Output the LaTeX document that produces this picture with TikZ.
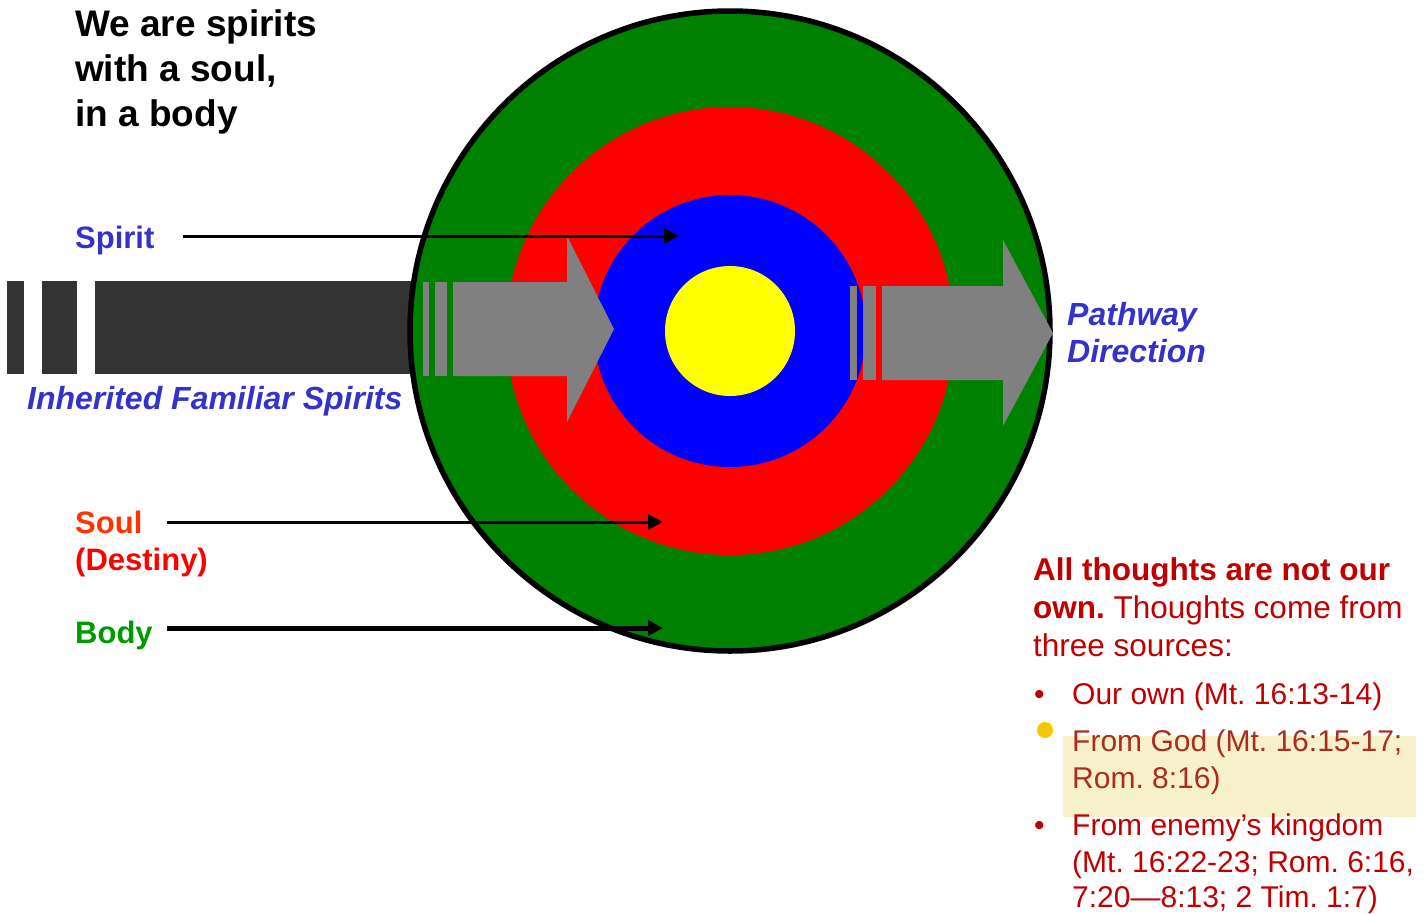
\documentclass[tikz,border=0pt]{standalone}
\usepackage{fontspec}
\setmainfont{Liberation Sans}
\usetikzlibrary{arrows.meta,positioning,calc}
\definecolor{DiscGreen}{RGB}{0,128,0}
\definecolor{DiscRed}{RGB}{255,0,0}
\definecolor{DiscBlue}{RGB}{0,0,255}
\definecolor{DiscYellow}{RGB}{255,255,0}
\definecolor{BarGray}{RGB}{51,51,51}
\definecolor{PathGray}{RGB}{128,128,128}
\definecolor{LabelBlue}{RGB}{51,51,204}
\definecolor{SoulOrange}{RGB}{255,51,0}
\definecolor{BodyGreen}{RGB}{0,153,0}
\definecolor{NoteRed}{RGB}{192,0,0}
\definecolor{NoteBrown}{RGB}{170,45,30}
\definecolor{MarkYellow}{RGB}{246,241,202}
\definecolor{DotYellow}{RGB}{245,200,0}
\newcommand{\titlefont}{\fontsize{37}{44}\selectfont\bfseries}
\newcommand{\labelfont}{\fontsize{31}{37}\selectfont\bfseries}
\newcommand{\notefont}{\fontsize{31.5}{38}\selectfont}
\newcommand{\srcfont}{\fontsize{30}{37}\selectfont}
\frenchspacing
\tikzset{
  lbl/.style={anchor=base west, inner sep=0pt},
  ptr/.style={-{Triangle[length=15pt,width=15pt]}, line width=3pt},
}

\begin{document}
\begin{tikzpicture}[x=1pt,y=-1pt]
        \useasboundingbox (0,0) rectangle (1424,913);
        \coordinate (core) at (730,331);
        % left bar, broken at its far end
        \foreach \a/\b in {7/24,42/77,95/420} {\fill[BarGray] (\a,281) rectangle (\b,374);}
        % the rings
        \fill[DiscGreen] (core) circle (320pt);
        \fill[DiscRed] (core) circle (224pt);
        \fill[DiscBlue] (core) circle (136pt);
        \fill[DiscYellow] (core) circle (65pt);
        \draw[line width=5.5pt] (core) circle (320pt);
        % path arrows
        \foreach \a/\b in {423/429,435/447} {\fill[PathGray] (\a,282) rectangle (\b,376);}
        \fill[PathGray] (453,282) -- (567,282) -- (567,236) -- (614,329) -- (567,422) -- (567,376) -- (453,376) -- cycle;
        \foreach \a/\b in {850/857,863/876} {\fill[PathGray] (\a,286) rectangle (\b,380);}
        \fill[PathGray] (882,286) -- (1003,286) -- (1003,240) -- (1053,333) -- (1003,426) -- (1003,380) -- (882,380) -- cycle;
        % title
        \node[lbl, font=\titlefont] (title1) at (75,36) {We are spirits};
        \node[lbl, font=\titlefont] (title2) at (75,81) {with a soul,};
        \node[lbl, font=\titlefont] (title3) at (75,126) {in a body};
        % labels and pointers
        \node[lbl, font=\labelfont, LabelBlue] (spirit) at (75,248) {Spirit};
        \node[lbl, font=\labelfont, SoulOrange] (soul) at (75,533) {Soul};
        \node[lbl, font=\labelfont, DiscRed] (destiny) at (75,570) {(Destiny)};
        \node[lbl, font=\labelfont, BodyGreen] (body) at (75,643) {Body};
        \coordinate (spiritfrom) at (183,236);
        \coordinate (spiritto) at (679,236);
        \coordinate (soulfrom) at (167,522);
        \coordinate (soulto) at (663,522);
        \coordinate (bodyfrom) at (167,628);
        \coordinate (bodyto) at (663,628);
        \draw[ptr] (spiritfrom) -- (spiritto);
        \draw[ptr] (soulfrom) -- (soulto);
        \draw[ptr, line width=5pt] (bodyfrom) -- (bodyto);
        \node[lbl, font=\fontsize{32}{37}\selectfont\bfseries\itshape, LabelBlue] (inherited) at (27,409) {Inherited Familiar Spirits};
        \node[lbl, font=\fontsize{32}{37}\selectfont\bfseries\itshape, LabelBlue] (pathway) at (1067,325) {Pathway};
        \node[lbl, font=\fontsize{32}{37}\selectfont\bfseries\itshape, LabelBlue] (direction) at (1067,362) {Direction};
        % notes
        \fill[MarkYellow] (1063,736) rectangle (1416,817);
        \fill[DotYellow] (1045,730) circle (8pt);
        \node[lbl, font=\notefont\bfseries, NoteRed] (note1) at (1033,580) {All thoughts are not our};
        \node[lbl, font=\notefont, NoteRed] (note2) at (1033,618) {\textbf{own.} Thoughts come from};
        \node[lbl, font=\notefont, NoteRed] (note3) at (1033,656) {three sources:};
        \node[lbl, font=\srcfont, NoteRed] (dot1) at (1034,704) {•};
        \node[lbl, font=\srcfont, NoteRed] (src1) at (1072,704) {Our own (Mt. 16:13-14)};
        \node[lbl, font=\srcfont, NoteBrown] (src2) at (1072,751) {From God (Mt. 16:15-17;};
        \node[lbl, font=\srcfont, NoteBrown] (src2b) at (1072,788) {Rom. 8:16)};
        \node[lbl, font=\srcfont, NoteRed] (dot3) at (1034,835) {•};
        \node[lbl, font=\srcfont, NoteRed] (src3) at (1072,835) {From enemy’s kingdom};
        \node[lbl, font=\srcfont, NoteRed] (src3b) at (1072,872) {(Mt. 16:22-23; Rom. 6:16,};
        \node[lbl, font=\srcfont, NoteRed] (src3c) at (1072,907) {7:20—8:13; 2 Tim. 1:7)};
      \end{tikzpicture}
\end{document}
